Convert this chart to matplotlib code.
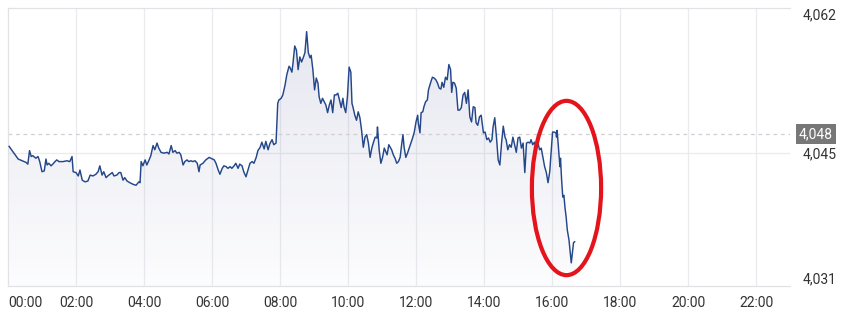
import numpy as np
from matplotlib import pyplot as plt
from matplotlib.patches import Ellipse
import matplotlib.transforms as mtransforms

plt.rcParams['font.family'] = ['Roboto', 'DejaVu Sans']

# minutes since 00:00
minutes = [
    2, 18, 25, 32, 35, 38, 41, 44, 49, 53, 56, 60, 64, 67, 69, 72, 76, 79, 83, 86,
    90, 97, 104, 109, 113, 115, 120, 124, 127, 131, 136, 141, 145, 150, 155, 159, 162, 166, 169,
    173, 176, 180, 184, 187, 192, 196, 199, 203, 206, 210, 215, 221, 226, 231, 233,
    235, 238, 242, 245, 249, 252, 256, 259, 263, 266, 270, 275, 281, 284, 288, 291,
    295, 298, 302, 305, 309, 312, 316, 319, 323, 326, 330, 334, 337,
    339, 344, 349, 355, 358, 364, 367, 371, 374, 378, 381, 385, 388, 392, 395, 399,
    402, 406, 409, 413, 416, 420, 424, 427, 431, 434, 438, 441, 445, 448, 452, 455,
    459, 462, 466, 469, 473, 476, 478, 482, 485, 489, 492, 496, 498, 501, 503, 506,
    509, 512, 515, 518, 521, 524, 527, 530, 533, 535, 538, 541, 544, 547, 549, 552,
    555, 558, 561, 564, 567, 570, 573, 576, 579, 582, 585, 588, 591, 593, 596, 599,
    602, 605, 607, 609, 612, 615, 618, 621, 624, 627, 630, 633, 636, 639, 642, 645,
    648, 651, 652, 655, 658, 661, 664, 667, 669, 672, 677, 680, 683, 686, 689, 692,
    695, 697, 699, 702, 705, 708, 711, 714, 717, 720, 723, 724, 727, 729, 732, 734,
    737, 740, 742, 746, 749, 752, 755, 758, 761, 764, 766, 769, 772, 775, 778, 781,
    783, 785, 788, 791, 794, 797, 800, 803, 806, 809, 812, 815, 818, 821, 824, 826,
    829, 832, 835, 839, 842, 845, 848, 851, 854, 856, 859, 862, 865, 868, 871, 874,
    877, 879, 882, 885, 888, 891, 894, 897, 900, 903, 906, 909, 912, 915, 918, 921,
    923, 926, 929, 932, 935, 938, 941, 944, 947, 950, 953, 956, 959, 961, 964, 967,
    968, 969, 972, 974, 975, 977, 979, 981, 983, 985, 987, 990, 992, 994, 996, 998, 1000,
]

prices = [
    4046.2, 4044.7, 4044.5, 4044.3, 4044.1, 4045.7, 4045.0, 4045.1, 4044.8, 4045.0,
    4044.4, 4043.2, 4043.3, 4044.7, 4044.0, 4044.2, 4043.9, 4044.1, 4044.4, 4044.6,
    4044.4, 4044.4, 4044.5, 4044.4, 4045.0, 4043.2, 4043.1, 4042.7, 4043.4, 4042.2,
    4042.0, 4042.1, 4042.8, 4042.7, 4042.9, 4043.2, 4043.9, 4042.8, 4043.2,
    4042.5, 4042.7, 4042.9, 4043.1, 4042.7, 4042.8, 4043.1, 4043.1, 4042.2, 4042.5,
    4042.1, 4041.9, 4041.7, 4041.6, 4042.0, 4041.9,
    4044.4, 4043.9, 4044.6, 4044.0, 4044.6, 4045.1, 4046.3, 4045.8, 4046.6, 4046.0,
    4045.5, 4045.4, 4045.5, 4045.3, 4046.3, 4045.5,
    4045.7, 4045.4, 4045.5, 4045.2, 4044.0, 4044.4, 4044.6, 4044.4, 4044.5, 4044.4,
    4044.5, 4044.2, 4043.2,
    4044.0, 4044.2, 4044.6, 4044.9, 4044.8, 4044.6, 4044.2, 4043.4, 4042.9, 4043.6,
    4043.9, 4043.8, 4043.6, 4043.8, 4043.6, 4043.9,
    4044.2, 4043.6, 4044.1, 4043.9, 4043.2, 4042.6, 4043.5, 4044.2, 4044.4, 4044.2,
    4044.9, 4045.7, 4046.1, 4046.7, 4045.9, 4046.8,
    4045.8, 4046.5, 4047.0, 4046.4, 4046.6, 4051.3, 4051.7, 4051.9, 4052.3, 4053.5,
    4054.7, 4055.7, 4055.5, 4055.0, 4056.1, 4058.1,
    4057.6, 4055.3, 4056.8, 4056.2, 4056.7, 4057.3, 4059.8, 4057.3, 4056.7, 4057.0,
    4055.3, 4052.9, 4054.3, 4053.7, 4052.1, 4051.3,
    4051.9, 4051.5, 4051.1, 4050.2, 4051.1, 4051.7, 4050.2, 4052.3, 4052.3, 4052.5,
    4051.7, 4050.8, 4051.9, 4050.9, 4050.2, 4052.1,
    4055.6, 4055.0, 4051.3, 4050.8, 4049.9, 4049.3, 4050.3, 4049.6, 4048.1, 4046.1,
    4047.3, 4047.6, 4046.6, 4044.9, 4046.0, 4046.7,
    4047.3, 4047.2, 4048.5, 4045.8, 4044.2, 4044.9, 4046.0, 4045.5, 4045.2, 4046.4,
    4045.8, 4045.2, 4044.8, 4044.2, 4044.4, 4044.9,
    4046.6, 4047.6, 4046.1, 4044.9, 4045.4, 4046.0, 4046.6, 4047.2, 4047.9, 4049.1,
    4049.9, 4049.0, 4047.8, 4050.2, 4050.3, 4050.9,
    4051.5, 4051.7, 4052.9, 4053.8, 4054.4, 4054.3, 4054.1, 4053.7, 4053.1, 4053.0,
    4053.8, 4053.2, 4054.4, 4054.1, 4055.9, 4055.3,
    4052.6, 4053.8, 4053.7, 4053.1, 4050.5, 4050.5, 4050.8, 4052.3, 4052.6, 4051.3,
    4052.9, 4049.7, 4049.1, 4050.9, 4050.8, 4049.0,
    4048.7, 4049.7, 4049.9, 4047.8, 4047.9, 4047.0, 4047.2, 4046.7, 4047.0, 4048.5,
    4049.6, 4047.3, 4044.6, 4044.0, 4046.6, 4048.6,
    4047.3, 4047.0, 4045.8, 4046.4, 4046.1, 4047.3, 4046.4, 4045.5, 4047.2, 4047.3,
    4046.0, 4046.6, 4043.1, 4046.6, 4046.7, 4046.6,
    4047.0, 4046.4, 4046.7, 4046.1, 4046.7, 4045.8, 4046.0, 4044.9, 4043.8, 4043.1,
    4041.9, 4043.2, 4046.1, 4047.9, 4047.9, 4047.8,
    4047.3, 4048.1, 4045.5, 4043.8, 4044.8, 4042.2, 4040.2, 4040.4, 4038.9, 4037.8,
    4036.3, 4035.1, 4033.7, 4032.4, 4033.6, 4034.8, 4034.9,
]

ref_price = 4047.67
ref_label = '4,048'
grid_price = 4045.42
grid_label = '4,045'
edge_prices = [4030.6, 4061.9]
edge_labels = ['4,031', '4,062']
x_ticks = [0, 120, 240, 360, 480, 600, 720, 840, 960, 1080, 1200, 1320]
x_labels = ['00:00', '02:00', '04:00', '06:00', '08:00', '10:00',
            '12:00', '14:00', '16:00', '18:00', '20:00', '22:00']

x = np.array(minutes)
y = np.array(prices)

fig = plt.figure(figsize=(8.41, 3.18), dpi=100)
ax = fig.add_axes([8 / 841, 32 / 318, 782 / 841, 278 / 318])
ax.set_xlim(0, 1380)
ax.set_ylim(4029.66, 4062.6)

# gradient fill under the line
grad = np.zeros((256, 1, 4))
grad[:, 0, 0] = 0.25
grad[:, 0, 1] = 0.27
grad[:, 0, 2] = 0.55
grad[:, 0, 3] = np.linspace(0.015, 0.14, 256)
img = ax.imshow(grad, aspect='auto', origin='lower',
                extent=[0, 1380, 4029.66, 4062.6], zorder=1)
poly = ax.fill_between(x, y, 4029.66, color='none', lw=0)
clip = poly.get_paths()[0]
img.set_clip_path(clip, transform=ax.transData)

ax.plot(x, y, color='#24478a', lw=1.05, zorder=3)

# grid
for t in x_ticks[1:]:
    ax.axvline(t, color='#ebebef', lw=0.9, zorder=0)
ax.axhline(grid_price, color='#ebebef', lw=0.9, zorder=0)
ax.axhline(ref_price, color='#cfcfd4', lw=0.9, ls=(0, (3, 3)), zorder=2)

for side in ['left', 'top', 'bottom']:
    ax.spines[side].set_color('#e2e2e6')
    ax.spines[side].set_linewidth(0.9)
ax.spines['right'].set_visible(False)

ax.set_xticks(x_ticks)
ax.set_xticklabels(x_labels)
ax.tick_params(axis='x', length=0, pad=7, labelsize=10, labelcolor='#333333')
ax.get_xticklabels()[0].set_horizontalalignment('left')

ax.yaxis.tick_right()
ax.set_yticks([grid_price])
ax.set_yticklabels([grid_label])
ax.set_yticks(edge_prices, minor=True)
ax.set_yticklabels(edge_labels, minor=True)
ax.tick_params(axis='y', which='both', length=0, pad=9, labelsize=10,
               labelcolor='#333333')

trans = mtransforms.blended_transform_factory(ax.transAxes, ax.transData)
ax.text(1.0 + 9 / 782, ref_price, ref_label, transform=trans, ha='left', va='center',
        fontsize=10, color='white',
        bbox=dict(boxstyle='square,pad=0.22', fc='#777777', ec='none'))

# red highlight
ell = Ellipse((0.7142, 0.3525), 0.0885, 0.627, transform=ax.transAxes,
              fill=False, ec='#e3141c', lw=3.0, zorder=5, clip_on=False)
ax.add_patch(ell)

fig.savefig('out.png', dpi=100)
